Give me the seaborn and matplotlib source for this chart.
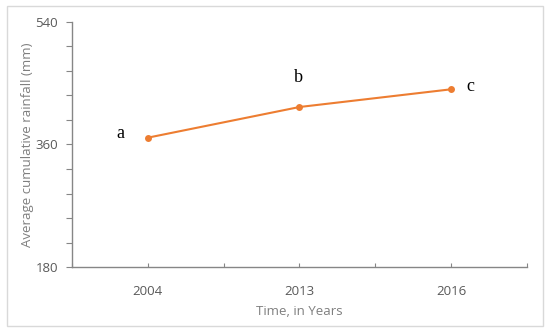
import matplotlib
matplotlib.use("Agg")
import matplotlib.pyplot as plt
import seaborn as sns
import pandas as pd
from matplotlib.patches import Rectangle
from matplotlib.ticker import MultipleLocator

years = ["2004", "2013", "2016"]
rainfall = [370, 415, 441]
letters = ["a", "b", "c"]

sns.set_theme(style="white")
plt.rcParams["font.family"] = ["Open Sans", "DejaVu Sans"]

grey = "#7f7f7f"
orange = "#ED7D31"

df = pd.DataFrame({"year": years, "rain": rainfall})

fig = plt.figure(figsize=(5.5, 3.31), dpi=100)
ax = fig.add_axes([0.131, 0.193, 0.827, 0.741])

sns.lineplot(data=df, x="year", y="rain", ax=ax, color=orange, lw=1.5,
             marker="o", markersize=5, markeredgewidth=0, sort=False)

# letters next to each point
offsets = [(-20, 3), (-1, 21), (14, 2)]
for i, (lab, off) in enumerate(zip(letters, offsets)):
    ax.annotate(lab, (i, rainfall[i]), textcoords="offset points", xytext=off,
                ha="center", va="center", fontsize=13, family="Liberation Serif",
                color="black")

ax.set_ylim(180, 540)
ax.yaxis.set_major_locator(MultipleLocator(180))
ax.yaxis.set_minor_locator(MultipleLocator(36))
ax.set_xlim(-0.5, 2.5)
ax.set_xticks([0, 1, 2])
ax.set_xticks([-0.5, 0.5, 1.5, 2.5], minor=True)

for s in ["top", "right"]:
    ax.spines[s].set_visible(False)
for s in ["left", "bottom"]:
    ax.spines[s].set_color("#868686")
    ax.spines[s].set_linewidth(1.0)

ax.tick_params(axis="both", which="both", bottom=True, left=True,
               color="#868686", labelcolor="#595959", labelsize=9.5, width=0.8)
ax.tick_params(axis="y", which="both", length=4, direction="out", pad=6)
ax.tick_params(axis="x", which="both", length=3, direction="in", pad=13)

ax.set_xlabel("Time, in Years", color=grey, fontsize=9.5, labelpad=5)
ax.set_ylabel("Average cumulative rainfall (mm)", color=grey, fontsize=9.5)
ax.yaxis.set_label_coords(-0.084, 0.5)

fig.patches.append(Rectangle((0.013, 0.015), 0.974, 0.968, transform=fig.transFigure,
                             fill=False, edgecolor="#d9d9d9", linewidth=1))

fig.savefig("out.png", dpi=100)
